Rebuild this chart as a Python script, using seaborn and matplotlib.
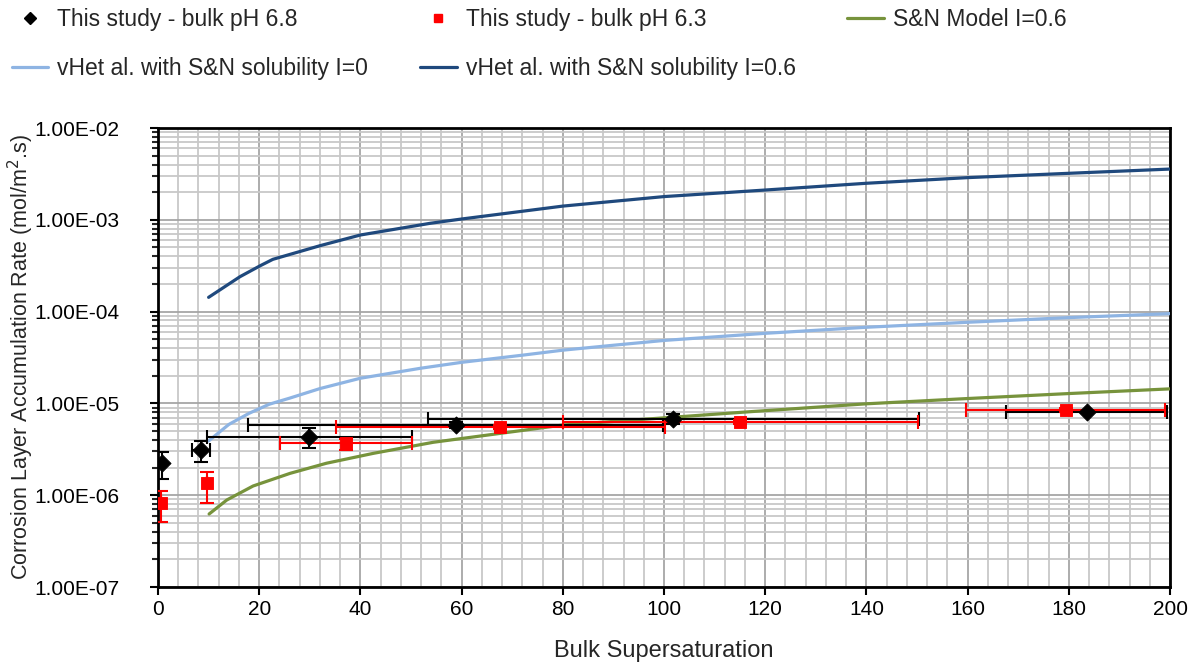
import numpy as np
import pandas as pd
import matplotlib
matplotlib.use("Agg")
import matplotlib.pyplot as plt
import matplotlib.ticker as mticker
from matplotlib.lines import Line2D
import seaborn as sns

# Données mesurées - pH 6.8 (losanges noirs)
x_ph68 = [0.8, 8.5, 29.9, 58.8, 101.8, 183.5]
y_ph68 = [2.23e-6, 3.11e-6, 4.34e-6, 5.82e-6, 6.76e-6, 8.06e-6]
xerr_ph68 = [0.0, 1.8, 20.3, 41.0, 48.5, 16.0]
ylo_ph68 = [1.50e-6, 2.30e-6, 3.24e-6, 5.40e-6, 5.92e-6, 7.80e-6]
yhi_ph68 = [2.98e-6, 3.89e-6, 5.44e-6, 6.30e-6, 7.61e-6, 8.35e-6]

# Données mesurées - pH 6.3 (carrés rouges)
x_ph63 = [0.5, 9.75, 37.1, 67.6, 115.1, 179.4]
y_ph63 = [8.16e-7, 1.35e-6, 3.67e-6, 5.50e-6, 6.32e-6, 8.47e-6]
xerr_ph63 = [0.0, 0.0, 13.0, 32.5, 35.0, 19.7]
ylo_ph63 = [5.07e-7, 8.28e-7, 3.10e-6, 5.20e-6, 6.00e-6, 8.10e-6]
yhi_ph63 = [1.11e-6, 1.80e-6, 4.09e-6, 5.80e-6, 6.60e-6, 8.80e-6]

# Modèle S&N I=0.6
x_sn = [10.1, 13.6, 18.8, 26.1, 33.3, 42.6, 54.4, 80.1, 100.5, 117, 140, 160, 180, 200]
y_sn = [6.24e-7, 8.87e-7, 1.26e-6, 1.73e-6, 2.23e-6, 2.86e-6, 3.77e-6,
        5.82e-6, 6.99e-6, 8.12e-6, 9.9e-6, 1.13e-5, 1.28e-5, 1.44e-5]

# vH et al. I=0
x_vh0 = [10, 14, 18, 22, 26, 32, 40, 52, 60, 72, 80, 90, 100, 120, 140, 160, 180, 200]
y_vh0 = [3.9e-6, 5.9e-6, 7.8e-6, 9.8e-6, 1.14e-5, 1.45e-5, 1.88e-5, 2.42e-5, 2.8e-5,
         3.35e-5, 3.8e-5, 4.3e-5, 4.85e-5, 5.8e-5, 6.75e-5, 7.65e-5, 8.6e-5, 9.5e-5]

# vH et al. I=0.6
x_vh6 = [10, 16.2, 20.2, 22.7, 32, 40, 53.8, 60, 80, 100, 120, 140, 160, 180, 200]
y_vh6 = [1.43e-4, 2.40e-4, 3.16e-4, 3.71e-4, 5.22e-4, 6.83e-4, 9.16e-4, 1.02e-3,
         1.41e-3, 1.79e-3, 2.11e-3, 2.50e-3, 2.88e-3, 3.21e-3, 3.57e-3]

sns.set_style("white")
plt.rcParams['font.family'] = ['Liberation Sans', 'DejaVu Sans']

fig = plt.figure(figsize=(11.98, 6.69), dpi=100)
ax = fig.add_axes([158/1198, 1 - 587/669, (1170-158)/1198, (587-128)/669])

c_green = '#77933c'
c_light = '#8eb4e3'
c_dark = '#1f497d'

sns.lineplot(x=x_sn, y=y_sn, ax=ax, color=c_green, lw=2.3, estimator=None, sort=False, zorder=3)
sns.lineplot(x=x_vh0, y=y_vh0, ax=ax, color=c_light, lw=2.3, estimator=None, sort=False, zorder=3)
sns.lineplot(x=x_vh6, y=y_vh6, ax=ax, color=c_dark, lw=2.3, estimator=None, sort=False, zorder=3)

# Barres d'erreur
y68 = np.array(y_ph68)
y63 = np.array(y_ph63)
ax.errorbar(x_ph68, y_ph68, xerr=xerr_ph68,
            yerr=[y68 - np.array(ylo_ph68), np.array(yhi_ph68) - y68],
            fmt='none', ecolor='black', elinewidth=1.5, capsize=5, capthick=1.5, zorder=4)
ax.errorbar(x_ph63, y_ph63, xerr=xerr_ph63,
            yerr=[y63 - np.array(ylo_ph63), np.array(yhi_ph63) - y63],
            fmt='none', ecolor='red', elinewidth=1.5, capsize=5, capthick=1.5, zorder=4)

sns.scatterplot(x=x_ph68, y=y_ph68, ax=ax, marker='D', color='black', s=75,
                edgecolor='black', zorder=5)
sns.scatterplot(x=x_ph63, y=y_ph63, ax=ax, marker='s', color='red', s=65,
                edgecolor='red', zorder=5)

ax.set_yscale('log')
ax.set_xlim(0, 200)
ax.set_ylim(1e-7, 1e-2)

ax.xaxis.set_major_locator(mticker.MultipleLocator(20))
ax.xaxis.set_minor_locator(mticker.MultipleLocator(4))
ax.yaxis.set_major_locator(mticker.LogLocator(base=10, numticks=10))
ax.yaxis.set_minor_locator(mticker.LogLocator(base=10, subs=np.arange(2, 10), numticks=20))
ax.yaxis.set_minor_formatter(mticker.NullFormatter())
ax.yaxis.set_major_formatter(mticker.FuncFormatter(lambda v, p: f"{v:.2E}"))

ax.grid(which='major', color='#a6a6a6', lw=1.3, zorder=0)
ax.grid(which='minor', color='#c8c8c8', lw=1.3, zorder=0)
ax.set_axisbelow(True)

for s in ax.spines.values():
    s.set_color('black')
    s.set_linewidth(2)

ax.tick_params(axis='both', which='major', direction='out', length=6, width=1.5,
               labelsize=15, colors='black', left=True, bottom=True)
ax.tick_params(axis='y', which='major', pad=22)
ax.tick_params(axis='y', which='minor', direction='out', length=4, width=1.5, left=True)
ax.tick_params(axis='x', which='minor', length=0)

ax.set_xlabel('Bulk Supersaturation', fontsize=17, labelpad=15)
fig.text(21/1198, 1 - 357/669, 'Corrosion Layer Accumulation Rate (mol/m$^{2}$.s)',
         fontsize=15.5, rotation=90, ha='center', va='center')

handles = [
    Line2D([], [], color='black', marker='D', ls='none', markersize=6),
    Line2D([], [], color=c_light, lw=2.3),
    Line2D([], [], color='red', marker='s', ls='none', markersize=6),
    Line2D([], [], color=c_dark, lw=2.3),
    Line2D([], [], color=c_green, lw=2.3),
]
labels = [
    'This study - bulk pH 6.8',
    'vHet al. with S&N solubility I=0',
    'This study - bulk pH 6.3',
    'vHet al. with S&N solubility I=0.6',
    'S&N Model I=0.6',
]
fig.legend(handles, labels, ncol=3, loc='upper left', bbox_to_anchor=(-0.0075, 1.0195),
           frameon=False, fontsize=16.5, handlelength=1.6, columnspacing=2.25,
           labelspacing=1.15, handletextpad=0.4)

fig.savefig('out.png', dpi=100)
